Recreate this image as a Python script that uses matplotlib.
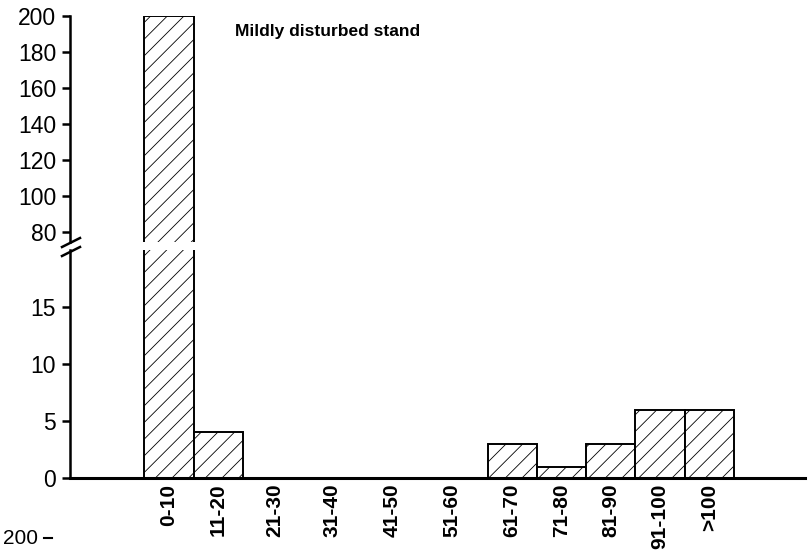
import numpy as np
import matplotlib.pyplot as plt

plt.rcParams['font.family'] = ['Liberation Sans', 'DejaVu Sans']
plt.rcParams['hatch.linewidth'] = 0.6

# data
classes = ["0-10", "11-20", "21-30", "31-40", "41-50", "51-60",
           "61-70", "71-80", "81-90", "91-100", ">100"]
counts = [200, 4, 0, 0, 0, 0, 3, 1, 3, 6, 6]
title = "Mildly disturbed stand"

# slot spacing between class centres (the empty classes sit wider apart)
gaps = [1, 1.15, 1.15, 1.22, 1.22, 1.22, 1, 1, 1, 1]
xpos = np.concatenate([[0], np.cumsum(gaps)])

fig = plt.figure(figsize=(8.11, 5.52), dpi=100)
W, H = 811, 552
left = 70 / W
width = 735 / W
ax_top = fig.add_axes([left, 1 - 242 / H, width, (242 - 16) / H])
ax_bot = fig.add_axes([left, 1 - 478 / H, width, (478 - 250) / H])

for ax in (ax_top, ax_bot):
    ax.bar(xpos, counts, width=1.0, color="white", edgecolor="black",
           linewidth=1.4, hatch="//", zorder=2)
    ax.set_xlim(-2.01, 12.9)
    for s in ("top", "right"):
        ax.spines[s].set_visible(False)
    ax.spines["left"].set_linewidth(1.8)
    ax.tick_params(axis="y", direction="out", length=6, width=1.8,
                   labelsize=16.5, pad=4)

ax_top.set_ylim(74.4, 200)
ax_top.set_yticks([80, 100, 120, 140, 160, 180, 200])
ax_top.spines["bottom"].set_visible(False)
ax_top.set_xticks([])

ax_bot.set_ylim(0, 20)
ax_bot.set_yticks([0, 5, 10, 15])
ax_bot.spines["bottom"].set_linewidth(2.2)
ax_bot.set_xticks(xpos)
ax_bot.set_xticklabels(classes, rotation=90, fontsize=15, fontweight="bold")
ax_bot.tick_params(axis="x", length=0, pad=4)

ax_top.text(0.225, 0.93, title, transform=ax_top.transAxes,
            fontsize=12.5, fontweight="bold", va="center", ha="left")

# axis break marks
for y0 in (247, 256):
    fig.add_artist(plt.Line2D([62 / W, 80 / W], [1 - y0 / H, 1 - (y0 - 9) / H],
                              color="black", lw=1.8, transform=fig.transFigure))

# top of the next panel, at the page edge
fig.text(3 / W, 1 - 529 / H, "200", fontsize=15, va="top", ha="left")
fig.add_artist(plt.Line2D([44 / W, 52 / W], [1 - 538 / H, 1 - 538 / H],
                          color="black", lw=1.5, transform=fig.transFigure))

plt.savefig("out.png", dpi=100)
plt.close()
